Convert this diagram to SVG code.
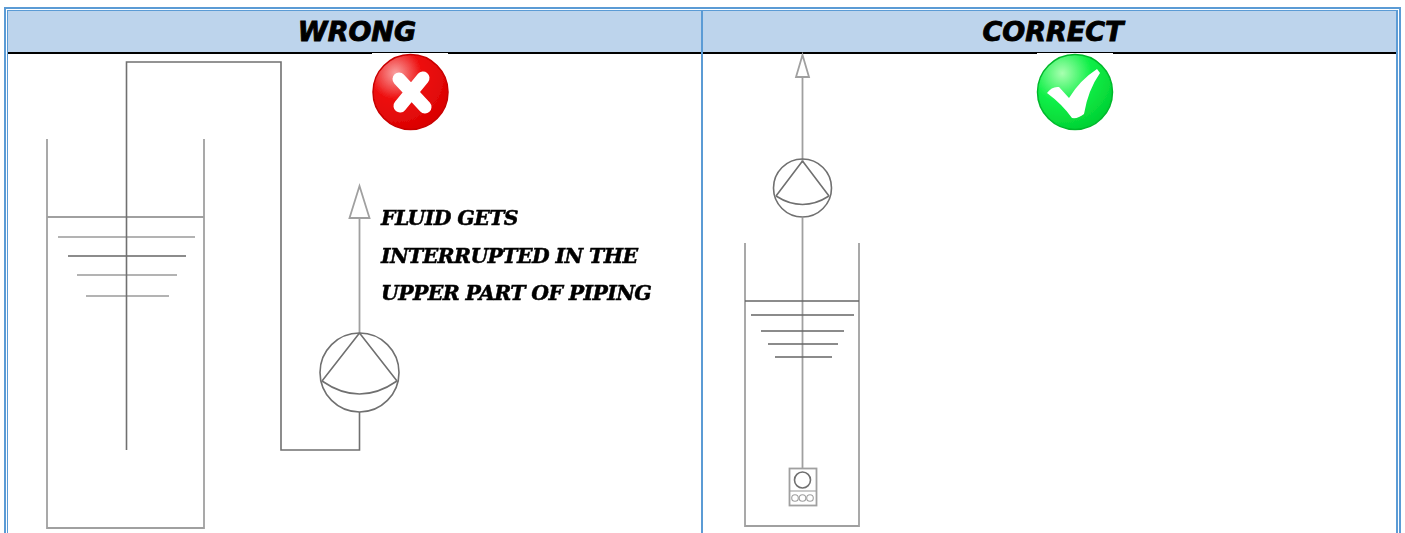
<svg xmlns="http://www.w3.org/2000/svg" width="1405" height="533" viewBox="0 0 1405 533">
<style>
.b{fill:#5b9bd5}
.h{font-family:"DejaVu Sans",sans-serif;font-weight:bold;font-style:italic;font-size:27px;fill:#000;stroke:#000;stroke-width:.9;text-anchor:middle}
.t{font-family:"DejaVu Serif",serif;font-weight:bold;font-style:italic;font-size:20.5px;fill:#000;stroke:#000;stroke-width:.5;letter-spacing:-.65px}
.p{fill:none;stroke:#a0a0a0;stroke-width:1.8}
.d{fill:none;stroke:#707070;stroke-width:1.6}
.l{fill:none;stroke:#9a9a9a;stroke-width:1.4}
.k{fill:none;stroke:#666;stroke-width:1.4}
.s{fill:none;stroke:#a0a0a0;stroke-width:1.1}
.soft{filter:url(#soft)}
.softer{filter:url(#softer)}
</style>
<defs>
<filter id="soft" x="-5%" y="-5%" width="110%" height="110%"><feGaussianBlur stdDeviation="0.55"/></filter>
<filter id="softer" x="-5%" y="-10%" width="110%" height="120%"><feGaussianBlur stdDeviation="0.35"/></filter>
<radialGradient id="rg" cx="0.3" cy="0.25" r="0.85"><stop offset="0" stop-color="#f9a0a0"/><stop offset="0.4" stop-color="#ee1111"/><stop offset="1" stop-color="#d80000"/></radialGradient>
<radialGradient id="gg" cx="0.33" cy="0.25" r="0.85"><stop offset="0" stop-color="#a8ffb0"/><stop offset="0.45" stop-color="#10f048"/><stop offset="1" stop-color="#00cc30"/></radialGradient>
</defs>
<rect width="1405" height="533" fill="#fff"/>
<g id="table">
<rect x="8" y="11" width="1388" height="41" fill="#bdd4ec"/>
<rect x="8" y="52" width="1388" height="2" fill="#000"/>
<rect x="372" y="53" width="76" height="1" fill="#fff"/>
<rect x="1037" y="53" width="76" height="1" fill="#fff"/>
<rect class="b" x="4" y="7" width="1397" height="2"/>
<rect class="b" x="7" y="10" width="1390" height="1"/>
<rect class="b" x="4" y="7" width="2" height="526"/>
<rect class="b" x="7" y="10" width="1" height="523"/>
<rect class="b" x="1399" y="7" width="2" height="526"/>
<rect class="b" x="1396" y="10" width="2" height="523"/>
<rect class="b" x="701" y="11" width="2" height="522"/>
<text class="h" x="357" y="41">WRONG</text>
<text class="h" x="1053" y="41">CORRECT</text>
</g>
<g id="wrong-icon" class="softer">
<circle cx="410.500" cy="92" r="37.500" fill="url(#rg)" stroke="#c80000" stroke-width="1.500"/>
<path d="M399 79L425 107M423 78L400 106" stroke="#fff" stroke-width="13" stroke-linecap="round" fill="none"/>
</g>
<g id="correct-icon" class="softer">
<circle cx="1075" cy="92" r="37.500" fill="url(#gg)" stroke="#00b82c" stroke-width="1.500"/>
<path d="M1047 93Q1052 86 1059 87L1069 98Q1080 80 1097 69L1100 73Q1088 90 1084 114Q1078 119 1072 118Q1062 104 1047 93Z" fill="#fff"/>
</g>
<g id="wrong-tank" class="soft">
<path class="p" d="M47 139V528H204V139"/>
<path class="p" d="M47 217H204"/>
<path class="l" d="M58 237H195M77 275H177M86 296H169"/>
<path class="k" d="M68 256H186"/>
</g>
<g id="connectors" class="soft">
<path class="d" d="M126.500 450V62H281V450H359.500V412"/>
<path class="p" d="M359.500 333V218"/>
<path class="p" d="M359.500 186L349.500 218H369.500Z"/>
<path class="p" d="M802.500 77V163"/>
<path class="p" d="M802.500 55L796 77H809Z"/>
<path class="p" d="M802.500 218V469"/>
</g>
<g id="wrong-pump" class="soft">
<circle class="d" cx="359.500" cy="372.500" r="39.500"/>
<path class="d" d="M359.500 333L322 381M359.500 333L397 381M322 381Q359.500 407 397 381"/>
</g>
<g id="correct-pump" class="soft">
<circle class="d" cx="802.500" cy="188" r="29"/>
<path class="d" d="M802.500 161L776 196M802.500 161L829 196M776 196Q802.500 213 829 196"/>
</g>
<g id="correct-tank" class="soft">
<path class="p" d="M745 243V526H859V243"/>
<path class="k" d="M745 301H859"/>
<path class="k" d="M751 315H854M761 331H844M768 344H838M775 357H832"/>
</g>
<g id="submersible" class="soft">
<rect class="p" x="789.500" y="468.500" width="27" height="37"/>
<circle class="d" cx="802.500" cy="480" r="8"/>
<path class="s" d="M790 491H816"/>
<circle class="s" cx="795" cy="498" r="3.300"/>
<circle class="s" cx="802.500" cy="498" r="3.300"/>
<circle class="s" cx="810" cy="498" r="3.300"/>
</g>
<g id="note" class="softer">
<text class="t" x="381" y="225">FLUID GETS</text>
<text class="t" x="381" y="263">INTERRUPTED IN THE</text>
<text class="t" x="381" y="300">UPPER PART OF PIPING</text>
</g>
</svg>
